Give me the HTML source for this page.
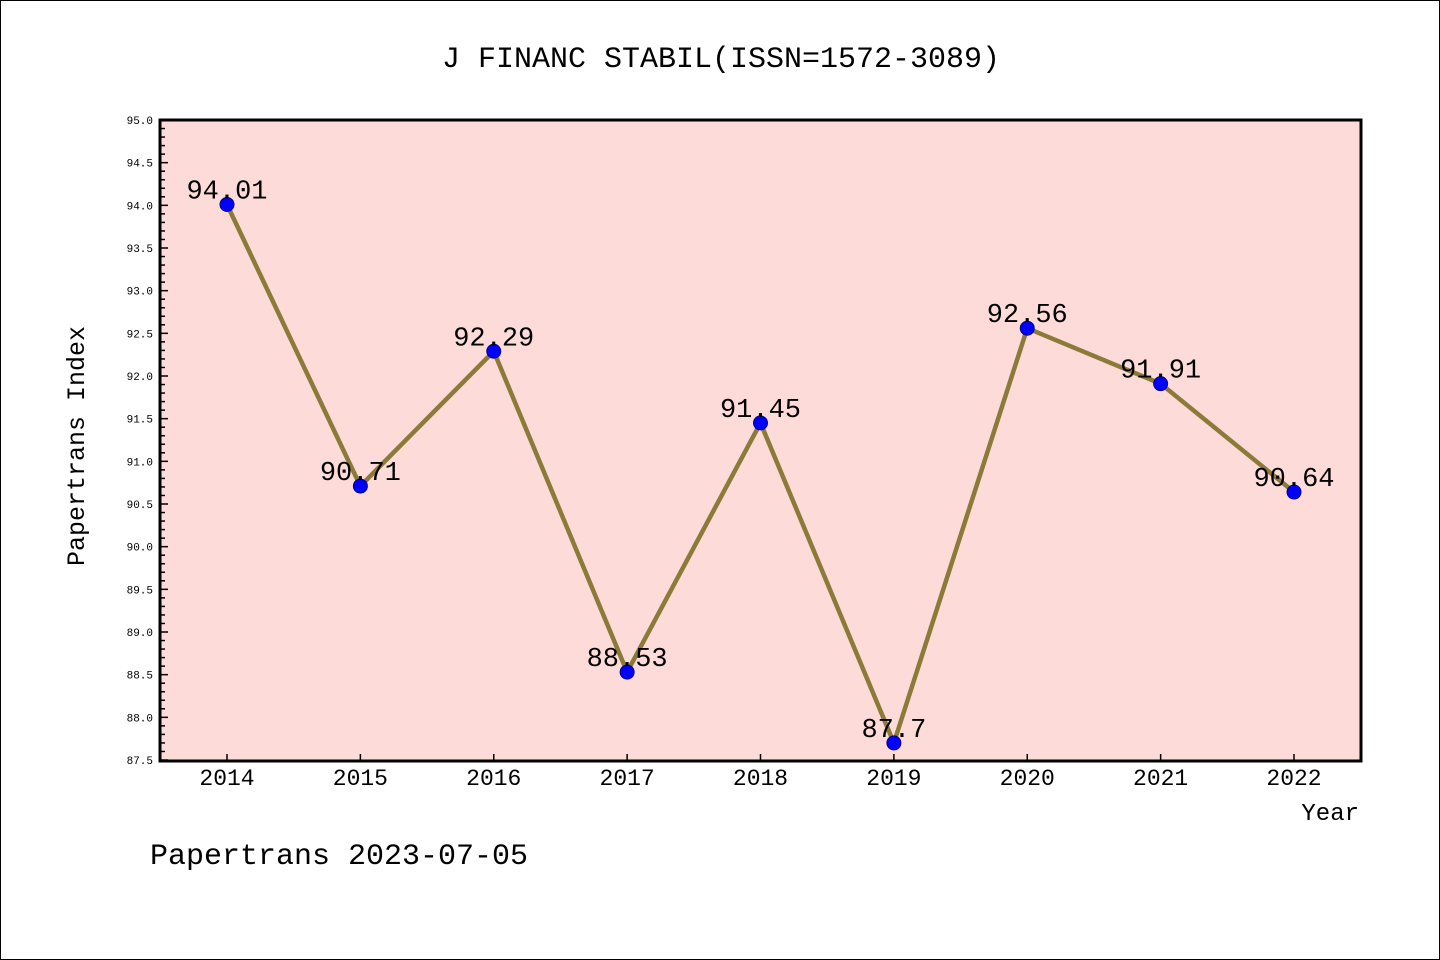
<!DOCTYPE html>
<html><head><meta charset="utf-8"><style>
html,body{margin:0;padding:0;background:#fff}
svg{display:block}
text{font-family:"Liberation Mono","DejaVu Sans Mono",monospace}
</style></head><body>
<svg id="chart" width="1440" height="960" xmlns="http://www.w3.org/2000/svg">
<rect x="0.5" y="0.5" width="1439" height="959" fill="#fff" stroke="#000" stroke-width="1"/>
<text x="721" y="67" font-size="30" text-anchor="middle">J FINANC STABIL(ISSN=1572-3089)</text>
<rect x="160" y="120" width="1201" height="641" fill="#fddbd8"/>
<g id="yaxis"></g>
<g id="xaxis"></g>
<g id="series"></g>
<rect x="160" y="120" width="1201" height="641" fill="none" stroke="#000" stroke-width="3"/>
<text transform="translate(84,446) rotate(-90)" font-size="25" text-anchor="middle">Papertrans Index</text>
<text x="1359" y="820" font-size="24" text-anchor="end">Year</text>
<text x="150" y="864" font-size="30">Papertrans 2023-07-05</text>
</svg>
<script>
const years = [2014,2015,2016,2017,2018,2019,2020,2021,2022];
const values = [94.01,90.71,92.29,88.53,91.45,87.7,92.56,91.91,90.64];
const yTicks = ["87.5","88.0","88.5","89.0","89.5","90.0","90.5","91.0","91.5","92.0","92.5","93.0","93.5","94.0","94.5","95.0"];
const NS="http://www.w3.org/2000/svg";
const yMin=87.5,yMax=95.0,plotTop=120,plotBot=760;
function ys(v){return plotBot-(v-yMin)/(yMax-yMin)*(plotBot-plotTop);}
function xs(i){return 227+i*(1294-227)/(years.length-1);}
function mk(tag,attrs,parent){const e=document.createElementNS(NS,tag);for(const k in attrs)e.setAttribute(k,attrs[k]);parent.appendChild(e);return e;}
const ya=document.getElementById('yaxis');
for(let k=0;k<=75;k++){
  const v=yMin+k*0.1;
  const y=ys(v);const major=(k%5===0);
  const t=mk('line',{x1:160,x2:160+(major?8:5),y1:y,y2:y,stroke:'#000','stroke-width':1.5},ya);
  
  
}
yTicks.forEach(s=>{
  const t=mk('text',{x:153,y:ys(parseFloat(s))+4,'font-size':11,'text-anchor':'end','font-family':'Liberation Sans, sans-serif'},ya);
  t.textContent=s;
  
  
});
const xa=document.getElementById('xaxis');
years.forEach((yr,i)=>{
  const l=mk('line',{x1:xs(i),x2:xs(i),y1:760,y2:754,stroke:'#000','stroke-width':1.5},xa);
  
  
  const t=mk('text',{x:xs(i),y:785,'font-size':23,'text-anchor':'middle','font-family':'Liberation Sans, sans-serif'},xa);
  t.textContent=yr;
  
  
});
const sg=document.getElementById('series');
const pl=mk('polyline',{points:values.map((v,i)=>xs(i)+','+ys(v)).join(' '),fill:'none',stroke:'#8b7a38','stroke-width':4.5},sg);


values.forEach((v,i)=>{
  const c=mk('circle',{cx:xs(i),cy:ys(v),r:7,fill:'#0000ff',stroke:'#00008b','stroke-width':1},sg);
  
  
  const t=mk('text',{x:xs(i),y:ys(v)-6,'font-size':27,'text-anchor':'middle','font-family':'Liberation Sans, sans-serif'},sg);
  t.textContent=String(v);
  
  
});
</script>
</body></html>
